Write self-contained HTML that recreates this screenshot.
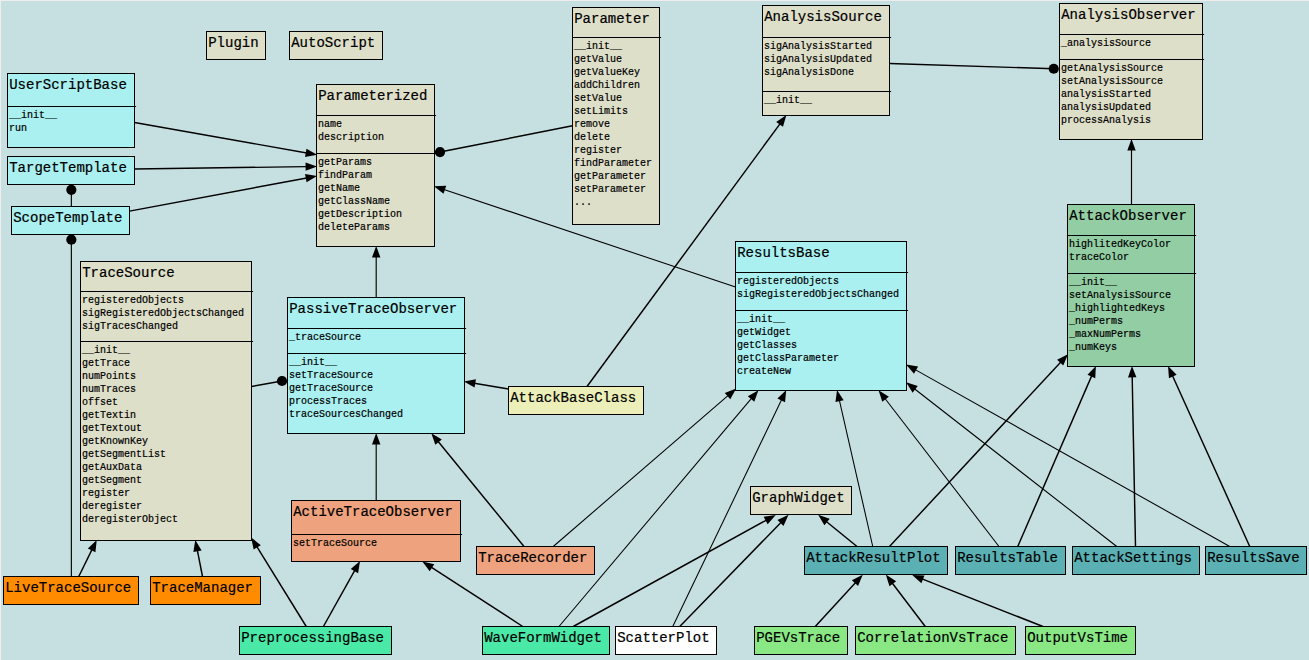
<!DOCTYPE html>
<html lang="en"><head><meta charset="utf-8"><title>Class diagram</title>
<style>
html,body{margin:0;padding:0;background:#c6dfe0;}
body{width:1309px;height:660px;overflow:hidden;position:relative;}
svg{position:absolute;left:0;top:0;display:block;}
text{font-family:"Liberation Mono",monospace;fill:#000;white-space:pre;stroke:#000;stroke-width:0.2px;}
.t{font-size:14px;}
.m{font-size:10px;}
.b{stroke:#000;stroke-width:1;}
.s{stroke:#000;stroke-width:1;fill:none;}
.l{stroke:#000;fill:none;stroke-linecap:butt;}
.a{fill:#000;stroke:none;}
</style></head><body>
<svg width="1309" height="660" viewBox="0 0 1309 660">
<rect x="0" y="0" width="1309" height="660" fill="#c6dfe0"/>
<rect x="0" y="0" width="1309" height="1" fill="#efeded"/>
<rect x="0" y="0" width="1" height="660" fill="#efeded"/>
<g id="links">
<line class="l" x1="134.5" y1="122.5" x2="306.74" y2="152.96" stroke-width="1.45"/>
<polygon class="a" points="317.08,154.79 305.03,156.92 306.49,148.65"/>
<line class="l" x1="134.5" y1="169" x2="306.6" y2="166.63" stroke-width="1.45"/>
<polygon class="a" points="317.1,166.48 305.66,170.84 305.54,162.44"/>
<line class="l" x1="129.5" y1="211.1" x2="306.76" y2="177.93" stroke-width="1.45"/>
<polygon class="a" points="317.08,176 306.55,182.24 305,173.98"/>
<line class="l" x1="572.5" y1="125.75" x2="440" y2="152.05" stroke-width="1.45"/>
<circle class="a" cx="440" cy="152.05" r="5.1"/>
<line class="l" x1="735.5" y1="287" x2="443.91" y2="189.48" stroke-width="1.05"/>
<polygon class="a" points="433.96,186.15 446.2,185.82 443.53,193.78"/>
<line class="l" x1="376.2" y1="297.5" x2="376.2" y2="256.4" stroke-width="1.15"/>
<polygon class="a" points="376.2,245.9 380.4,257.4 372,257.4"/>
<line class="l" x1="71.35" y1="206.5" x2="71.35" y2="189.8" stroke-width="1.15"/>
<circle class="a" cx="71.35" cy="189.8" r="5.1"/>
<line class="l" x1="71.35" y1="576.5" x2="71.35" y2="239.7" stroke-width="1.15"/>
<circle class="a" cx="71.35" cy="239.7" r="5.1"/>
<line class="l" x1="78.75" y1="576.5" x2="92.09" y2="549.43" stroke-width="1.45"/>
<polygon class="a" points="96.74,540.01 95.42,552.19 87.88,548.47"/>
<line class="l" x1="202.5" y1="576.5" x2="197.32" y2="550.22" stroke-width="1.45"/>
<polygon class="a" points="195.29,539.92 201.63,550.39 193.39,552.02"/>
<line class="l" x1="306.25" y1="626.5" x2="256.7" y2="546.49" stroke-width="1.45"/>
<polygon class="a" points="251.17,537.56 260.8,545.13 253.66,549.55"/>
<line class="l" x1="251.5" y1="386.5" x2="282" y2="381" stroke-width="1.45"/>
<circle class="a" cx="282" cy="381" r="5.1"/>
<line class="l" x1="508.5" y1="389" x2="474.27" y2="383.3" stroke-width="1.45"/>
<polygon class="a" points="463.91,381.57 475.95,379.32 474.57,387.6"/>
<line class="l" x1="376.2" y1="500.5" x2="376.2" y2="443.4" stroke-width="1.15"/>
<polygon class="a" points="376.2,432.9 380.4,444.4 372,444.4"/>
<line class="l" x1="524" y1="546.5" x2="437.95" y2="441.28" stroke-width="1.45"/>
<polygon class="a" points="431.3,433.15 441.83,439.39 435.33,444.71"/>
<line class="l" x1="323.4" y1="626.5" x2="354.91" y2="570.2" stroke-width="1.45"/>
<polygon class="a" points="360.04,561.04 358.09,573.13 350.76,569.02"/>
<line class="l" x1="522.75" y1="626.5" x2="431.14" y2="567.11" stroke-width="1.45"/>
<polygon class="a" points="422.33,561.4 434.26,564.13 429.69,571.18"/>
<line class="l" x1="587" y1="386.5" x2="780.18" y2="123.58" stroke-width="1.45"/>
<polygon class="a" points="786.4,115.11 782.98,126.87 776.21,121.89"/>
<line class="l" x1="889.5" y1="63.5" x2="1053.75" y2="68.75" stroke-width="1.45"/>
<circle class="a" cx="1053.75" cy="68.75" r="5.1"/>
<line class="l" x1="1131.5" y1="204.5" x2="1131.5" y2="149.4" stroke-width="1.15"/>
<polygon class="a" points="1131.5,138.9 1135.7,150.4 1127.3,150.4"/>
<line class="l" x1="553.25" y1="546.5" x2="728.28" y2="395.44" stroke-width="1.05"/>
<polygon class="a" points="736.23,388.58 730.27,399.27 724.78,392.92"/>
<line class="l" x1="559" y1="626.5" x2="751.69" y2="398.18" stroke-width="1.05"/>
<polygon class="a" points="758.46,390.16 754.25,401.66 747.83,396.24"/>
<line class="l" x1="672.75" y1="626.5" x2="781.68" y2="399.47" stroke-width="1.05"/>
<polygon class="a" points="786.23,390.01 785.04,402.19 777.46,398.56"/>
<line class="l" x1="872.75" y1="546.5" x2="839.34" y2="400.16" stroke-width="1.05"/>
<polygon class="a" points="837.01,389.93 843.66,400.2 835.47,402.07"/>
<line class="l" x1="999" y1="546.5" x2="884.99" y2="398.45" stroke-width="1.05"/>
<polygon class="a" points="878.58,390.13 888.92,396.68 882.27,401.8"/>
<line class="l" x1="1116.75" y1="546.5" x2="914.41" y2="388.78" stroke-width="1.05"/>
<polygon class="a" points="906.13,382.32 917.78,386.08 912.62,392.71"/>
<line class="l" x1="1229.75" y1="546.5" x2="915.19" y2="369.61" stroke-width="1.05"/>
<polygon class="a" points="906.04,364.46 918.12,366.44 914.01,373.76"/>
<line class="l" x1="573.25" y1="626.5" x2="766.52" y2="520.04" stroke-width="1.45"/>
<polygon class="a" points="775.71,514.97 767.67,524.2 763.61,516.84"/>
<line class="l" x1="679.75" y1="626.5" x2="781.19" y2="522.24" stroke-width="1.45"/>
<polygon class="a" points="788.52,514.71 783.51,525.88 777.49,520.03"/>
<line class="l" x1="857" y1="546.5" x2="826.28" y2="521.44" stroke-width="1.45"/>
<polygon class="a" points="818.15,514.8 829.71,518.82 824.4,525.33"/>
<line class="l" x1="889.5" y1="546.5" x2="1060.86" y2="361.89" stroke-width="1.45"/>
<polygon class="a" points="1068,354.19 1063.25,365.48 1057.1,359.77"/>
<line class="l" x1="1017.75" y1="546.5" x2="1091.76" y2="375.63" stroke-width="1.45"/>
<polygon class="a" points="1095.94,365.99 1095.22,378.21 1087.51,374.87"/>
<line class="l" x1="1135.5" y1="546.5" x2="1132.18" y2="376.4" stroke-width="1.45"/>
<polygon class="a" points="1131.98,365.9 1136.4,377.32 1128,377.48"/>
<line class="l" x1="1249.75" y1="546.5" x2="1172.38" y2="375.56" stroke-width="1.45"/>
<polygon class="a" points="1168.05,366 1176.61,374.74 1168.96,378.21"/>
<line class="l" x1="815.25" y1="626.5" x2="855.65" y2="582.43" stroke-width="1.45"/>
<polygon class="a" points="862.74,574.69 858.07,586 851.88,580.33"/>
<line class="l" x1="925.25" y1="626.5" x2="892.19" y2="582.98" stroke-width="1.45"/>
<polygon class="a" points="885.83,574.62 896.14,581.24 889.45,586.32"/>
<line class="l" x1="1043" y1="626.5" x2="922" y2="578.94" stroke-width="1.45"/>
<polygon class="a" points="912.23,575.1 924.47,575.4 921.39,583.21"/>
</g>
<g id="classes">
<rect class="b" x="206.5" y="31.5" width="59" height="28" fill="#dedfc9"/>
<text class="t" x="208.2" y="46.7">Plugin</text>
<rect class="b" x="289.5" y="31.5" width="93" height="28" fill="#dedfc9"/>
<text class="t" x="291.2" y="46.7">AutoScript</text>
<rect class="b" x="7.5" y="73.5" width="127" height="74" fill="#aaf0f0"/>
<text class="t" x="9.2" y="88.7">UserScriptBase</text>
<line class="s" x1="7.5" y1="106.5" x2="136.1" y2="106.5"/>
<text class="m" x="9.1" y="118">__init__</text>
<text class="m" x="9.1" y="131">run</text>
<rect class="b" x="7.5" y="156.5" width="127" height="28" fill="#aaf0f0"/>
<text class="t" x="9.2" y="171.7">TargetTemplate</text>
<rect class="b" x="11.5" y="206.5" width="118" height="28" fill="#aaf0f0"/>
<text class="t" x="13.2" y="221.7">ScopeTemplate</text>
<rect class="b" x="316.5" y="84.5" width="118" height="162" fill="#dedfc9"/>
<text class="t" x="318.2" y="99.7">Parameterized</text>
<line class="s" x1="316.5" y1="115.5" x2="436.1" y2="115.5"/>
<text class="m" x="318.1" y="127">name</text>
<text class="m" x="318.1" y="140">description</text>
<line class="s" x1="316.5" y1="153.5" x2="436.1" y2="153.5"/>
<text class="m" x="318.1" y="165">getParams</text>
<text class="m" x="318.1" y="178">findParam</text>
<text class="m" x="318.1" y="191">getName</text>
<text class="m" x="318.1" y="204">getClassName</text>
<text class="m" x="318.1" y="217">getDescription</text>
<text class="m" x="318.1" y="230">deleteParams</text>
<rect class="b" x="572.5" y="7.5" width="87" height="217" fill="#dedfc9"/>
<text class="t" x="574.2" y="22.7">Parameter</text>
<line class="s" x1="572.5" y1="37.5" x2="661.1" y2="37.5"/>
<text class="m" x="574.1" y="49">__init__</text>
<text class="m" x="574.1" y="62">getValue</text>
<text class="m" x="574.1" y="75">getValueKey</text>
<text class="m" x="574.1" y="88">addChildren</text>
<text class="m" x="574.1" y="101">setValue</text>
<text class="m" x="574.1" y="114">setLimits</text>
<text class="m" x="574.1" y="127">remove</text>
<text class="m" x="574.1" y="140">delete</text>
<text class="m" x="574.1" y="153">register</text>
<text class="m" x="574.1" y="166">findParameter</text>
<text class="m" x="574.1" y="179">getParameter</text>
<text class="m" x="574.1" y="192">setParameter</text>
<text class="m" x="574.1" y="205">...</text>
<rect class="b" x="762.5" y="5.5" width="127" height="110" fill="#dedfc9"/>
<text class="t" x="764.2" y="20.7">AnalysisSource</text>
<line class="s" x1="762.5" y1="37.5" x2="891.1" y2="37.5"/>
<text class="m" x="764.1" y="49">sigAnalysisStarted</text>
<text class="m" x="764.1" y="62">sigAnalysisUpdated</text>
<text class="m" x="764.1" y="75">sigAnalysisDone</text>
<line class="s" x1="762.5" y1="91.5" x2="891.1" y2="91.5"/>
<text class="m" x="764.1" y="103">__init__</text>
<rect class="b" x="1059.5" y="3.5" width="143" height="136" fill="#dedfc9"/>
<text class="t" x="1061.2" y="18.7">AnalysisObserver</text>
<line class="s" x1="1059.5" y1="34.5" x2="1204.1" y2="34.5"/>
<text class="m" x="1061.1" y="46">_analysisSource</text>
<line class="s" x1="1059.5" y1="59.5" x2="1204.1" y2="59.5"/>
<text class="m" x="1061.1" y="71">getAnalysisSource</text>
<text class="m" x="1061.1" y="84">setAnalysisSource</text>
<text class="m" x="1061.1" y="97">analysisStarted</text>
<text class="m" x="1061.1" y="110">analysisUpdated</text>
<text class="m" x="1061.1" y="123">processAnalysis</text>
<rect class="b" x="1067.5" y="204.5" width="127" height="162" fill="#93cda3"/>
<text class="t" x="1069.2" y="219.7">AttackObserver</text>
<line class="s" x1="1067.5" y1="235.5" x2="1196.1" y2="235.5"/>
<text class="m" x="1069.1" y="247">highlitedKeyColor</text>
<text class="m" x="1069.1" y="260">traceColor</text>
<line class="s" x1="1067.5" y1="273.5" x2="1196.1" y2="273.5"/>
<text class="m" x="1069.1" y="285">__init__</text>
<text class="m" x="1069.1" y="298">setAnalysisSource</text>
<text class="m" x="1069.1" y="311">_highlightedKeys</text>
<text class="m" x="1069.1" y="324">_numPerms</text>
<text class="m" x="1069.1" y="337">_maxNumPerms</text>
<text class="m" x="1069.1" y="350">_numKeys</text>
<rect class="b" x="735.5" y="241.5" width="171" height="149" fill="#aaf0f0"/>
<text class="t" x="737.2" y="256.7">ResultsBase</text>
<line class="s" x1="735.5" y1="272.5" x2="908.1" y2="272.5"/>
<text class="m" x="737.1" y="284">registeredObjects</text>
<text class="m" x="737.1" y="297">sigRegisteredObjectsChanged</text>
<line class="s" x1="735.5" y1="310.5" x2="908.1" y2="310.5"/>
<text class="m" x="737.1" y="322">__init__</text>
<text class="m" x="737.1" y="335">getWidget</text>
<text class="m" x="737.1" y="348">getClasses</text>
<text class="m" x="737.1" y="361">getClassParameter</text>
<text class="m" x="737.1" y="374">createNew</text>
<rect class="b" x="80.5" y="261.5" width="171" height="279" fill="#dedfc9"/>
<text class="t" x="82.2" y="276.7">TraceSource</text>
<line class="s" x1="80.5" y1="291.5" x2="253.1" y2="291.5"/>
<text class="m" x="82.1" y="303">registeredObjects</text>
<text class="m" x="82.1" y="316">sigRegisteredObjectsChanged</text>
<text class="m" x="82.1" y="329">sigTracesChanged</text>
<line class="s" x1="80.5" y1="341.5" x2="253.1" y2="341.5"/>
<text class="m" x="82.1" y="353">__init__</text>
<text class="m" x="82.1" y="366">getTrace</text>
<text class="m" x="82.1" y="379">numPoints</text>
<text class="m" x="82.1" y="392">numTraces</text>
<text class="m" x="82.1" y="405">offset</text>
<text class="m" x="82.1" y="418">getTextin</text>
<text class="m" x="82.1" y="431">getTextout</text>
<text class="m" x="82.1" y="444">getKnownKey</text>
<text class="m" x="82.1" y="457">getSegmentList</text>
<text class="m" x="82.1" y="470">getAuxData</text>
<text class="m" x="82.1" y="483">getSegment</text>
<text class="m" x="82.1" y="496">register</text>
<text class="m" x="82.1" y="509">deregister</text>
<text class="m" x="82.1" y="522">deregisterObject</text>
<rect class="b" x="287.5" y="297.5" width="177" height="136" fill="#aaf0f0"/>
<text class="t" x="289.2" y="312.7">PassiveTraceObserver</text>
<line class="s" x1="287.5" y1="328.5" x2="466.1" y2="328.5"/>
<text class="m" x="289.1" y="340">_traceSource</text>
<line class="s" x1="287.5" y1="353.5" x2="466.1" y2="353.5"/>
<text class="m" x="289.1" y="365">__init__</text>
<text class="m" x="289.1" y="378">setTraceSource</text>
<text class="m" x="289.1" y="391">getTraceSource</text>
<text class="m" x="289.1" y="404">processTraces</text>
<text class="m" x="289.1" y="417">traceSourcesChanged</text>
<rect class="b" x="508.5" y="386.5" width="135" height="28" fill="#ecf0b8"/>
<text class="t" x="510.2" y="401.7">AttackBaseClass</text>
<rect class="b" x="291.5" y="500.5" width="169" height="61" fill="#eea27d"/>
<text class="t" x="293.2" y="515.7">ActiveTraceObserver</text>
<line class="s" x1="291.5" y1="534.5" x2="462.1" y2="534.5"/>
<text class="m" x="293.1" y="546">setTraceSource</text>
<rect class="b" x="476.5" y="546.5" width="118" height="28" fill="#eea27d"/>
<text class="t" x="478.2" y="561.7">TraceRecorder</text>
<rect class="b" x="3.5" y="576.5" width="135" height="28" fill="#ff8c00"/>
<text class="t" x="5.2" y="591.7">LiveTraceSource</text>
<rect class="b" x="150.5" y="576.5" width="110" height="28" fill="#ff8c00"/>
<text class="t" x="152.2" y="591.7">TraceManager</text>
<rect class="b" x="239.5" y="626.5" width="152" height="28" fill="#4be9a7"/>
<text class="t" x="241.2" y="641.7">PreprocessingBase</text>
<rect class="b" x="482.5" y="626.5" width="127" height="28" fill="#4be9a7"/>
<text class="t" x="484.2" y="641.7">WaveFormWidget</text>
<rect class="b" x="615.5" y="626.5" width="101" height="28" fill="#ffffff"/>
<text class="t" x="617.2" y="641.7">ScatterPlot</text>
<rect class="b" x="750.5" y="486.5" width="101" height="28" fill="#dedfc9"/>
<text class="t" x="752.2" y="501.7">GraphWidget</text>
<rect class="b" x="804.5" y="546.5" width="143" height="28" fill="#5bb0b4"/>
<text class="t" x="806.2" y="561.7">AttackResultPlot</text>
<rect class="b" x="955.5" y="546.5" width="110" height="28" fill="#5bb0b4"/>
<text class="t" x="957.2" y="561.7">ResultsTable</text>
<rect class="b" x="1072.5" y="546.5" width="127" height="28" fill="#5bb0b4"/>
<text class="t" x="1074.2" y="561.7">AttackSettings</text>
<rect class="b" x="1205.5" y="546.5" width="101" height="28" fill="#5bb0b4"/>
<text class="t" x="1207.2" y="561.7">ResultsSave</text>
<rect class="b" x="754.5" y="626.5" width="93" height="28" fill="#89e884"/>
<text class="t" x="756.2" y="641.7">PGEVsTrace</text>
<rect class="b" x="855.5" y="626.5" width="160" height="28" fill="#89e884"/>
<text class="t" x="857.2" y="641.7">CorrelationVsTrace</text>
<rect class="b" x="1025.5" y="626.5" width="110" height="28" fill="#89e884"/>
<text class="t" x="1027.2" y="641.7">OutputVsTime</text>
</g>
</svg></body></html>
